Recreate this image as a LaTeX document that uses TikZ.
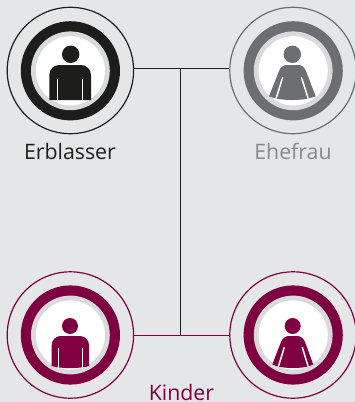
\documentclass[tikz,border=0pt]{standalone}
\usepackage{fontspec}
\setmainfont{Open Sans}
\definecolor{bgc}{HTML}{E5E6E8}
\definecolor{blk}{HTML}{1D1D1B}
\definecolor{gry}{HTML}{6D6E71}
\definecolor{lbl}{HTML}{87888A}
\definecolor{crm}{HTML}{7F0040}
\definecolor{rng}{HTML}{D9DADB}
\tikzset{
  outerring/.style={circle,draw=#1,line width=1.2pt,fill=none,minimum size=126.4pt,inner sep=0pt},
  lbltext/.style={font=\fontsize{21.3}{24}\selectfont,inner sep=0pt,anchor=base},
  gap/.style={draw=white,line width=1.5pt}
}
\newcommand{\badge}[3]{% x,y,colour
  \fill[#3] (#1,#2) circle[radius=49.6];
  \fill[rng] (#1,#2) circle[radius=39.4];
  \fill[white] (#1,#2) circle[radius=34.6];
}
\begin{document}
\begin{tikzpicture}[x=1pt,y=-1pt]
\useasboundingbox[fill=bgc] (0,0) rectangle (355,402);
% badges
\badge{70.4}{70.8}{blk}
\badge{293.2}{70.8}{gry}
\badge{70.4}{335}{crm}
\badge{293.2}{335}{crm}
% outer rings
\node[outerring=blk] (erb) at (70.4,70.5) {};
\node[outerring=gry] (ehe) at (293,70.5) {};
\node[outerring=crm] (ki1) at (70.4,335) {};
\node[outerring=crm] (ki2) at (293,335) {};
\coordinate (topj) at (180.7,68.3);
\coordinate (botj) at (180.7,335.3);
% connectors
\draw[crm,line width=1.2pt] (ki1.east |- botj) -- (ki2.west |- botj);
\draw[blk,line width=1.2pt] (erb.east |- topj) -- (ehe.west |- topj);
\draw[blk,line width=1.2pt] (topj) -- (botj);
% person 1
\fill[blk] (70.7,54.3) circle[radius=8.7];
\fill[blk] (49.3,100) -- (49.3,75) arc[start angle=180,end angle=270,radius=10] -- (81,65) arc[start angle=270,end angle=360,radius=10] -- (91,100) -- cycle;
\draw[gap] (57.3,79.3) -- (57.3,100.5);
\draw[gap] (82.7,79.3) -- (82.7,100.5);
% person 2
\fill[gry] (292.3,54.3) circle[radius=8.7];
\fill[gry] (269,96.5) -- (279,71) .. controls (281,67) and (283,65) .. (287,65) -- (298,65) .. controls (302,65) and (304,67) .. (306,71) -- (315.7,96.5) -- (308,98.5) .. controls (300,100.5) and (285,100.5) .. (276,98.5) -- cycle;
\draw[gap] (282.7,77.3) -- (276,98.8);
\draw[gap] (301.4,77.3) -- (308.3,98.8);
% person 3
\fill[crm] (70,326) circle[radius=8];
\fill[crm] (51.7,366) -- (51.7,345) arc[start angle=180,end angle=270,radius=9] -- (80,336) arc[start angle=270,end angle=360,radius=9] -- (89,366) .. controls (80,368.8) and (60,368.8) .. cycle;
\draw[gap] (58.3,348.3) -- (58.3,368.5);
\draw[gap] (82.3,348.3) -- (82.3,368.5);
% person 4
\fill[crm] (292.7,326) circle[radius=8];
\fill[crm] (272.3,364.5) -- (281,342) .. controls (283,338) and (285,336) .. (289,336) -- (297,336) .. controls (301,336) and (303,338) .. (305,342) -- (313.3,364.5) -- (308,366.5) .. controls (300,368.5) and (286,368.5) .. (278,366.5) -- cycle;
\draw[gap] (284.3,347.3) -- (278.3,367);
\draw[gap] (302.3,347.3) -- (308.3,367);
% labels
\node[lbltext,text=blk] (t1) at (70,159.5) {Erblasser};
\node[lbltext,text=lbl] (t2) at (293,159.5) {Ehefrau};
\node[lbltext,text=crm] (t3) at (181.5,400.5) {Kinder};
\end{tikzpicture}
\end{document}
